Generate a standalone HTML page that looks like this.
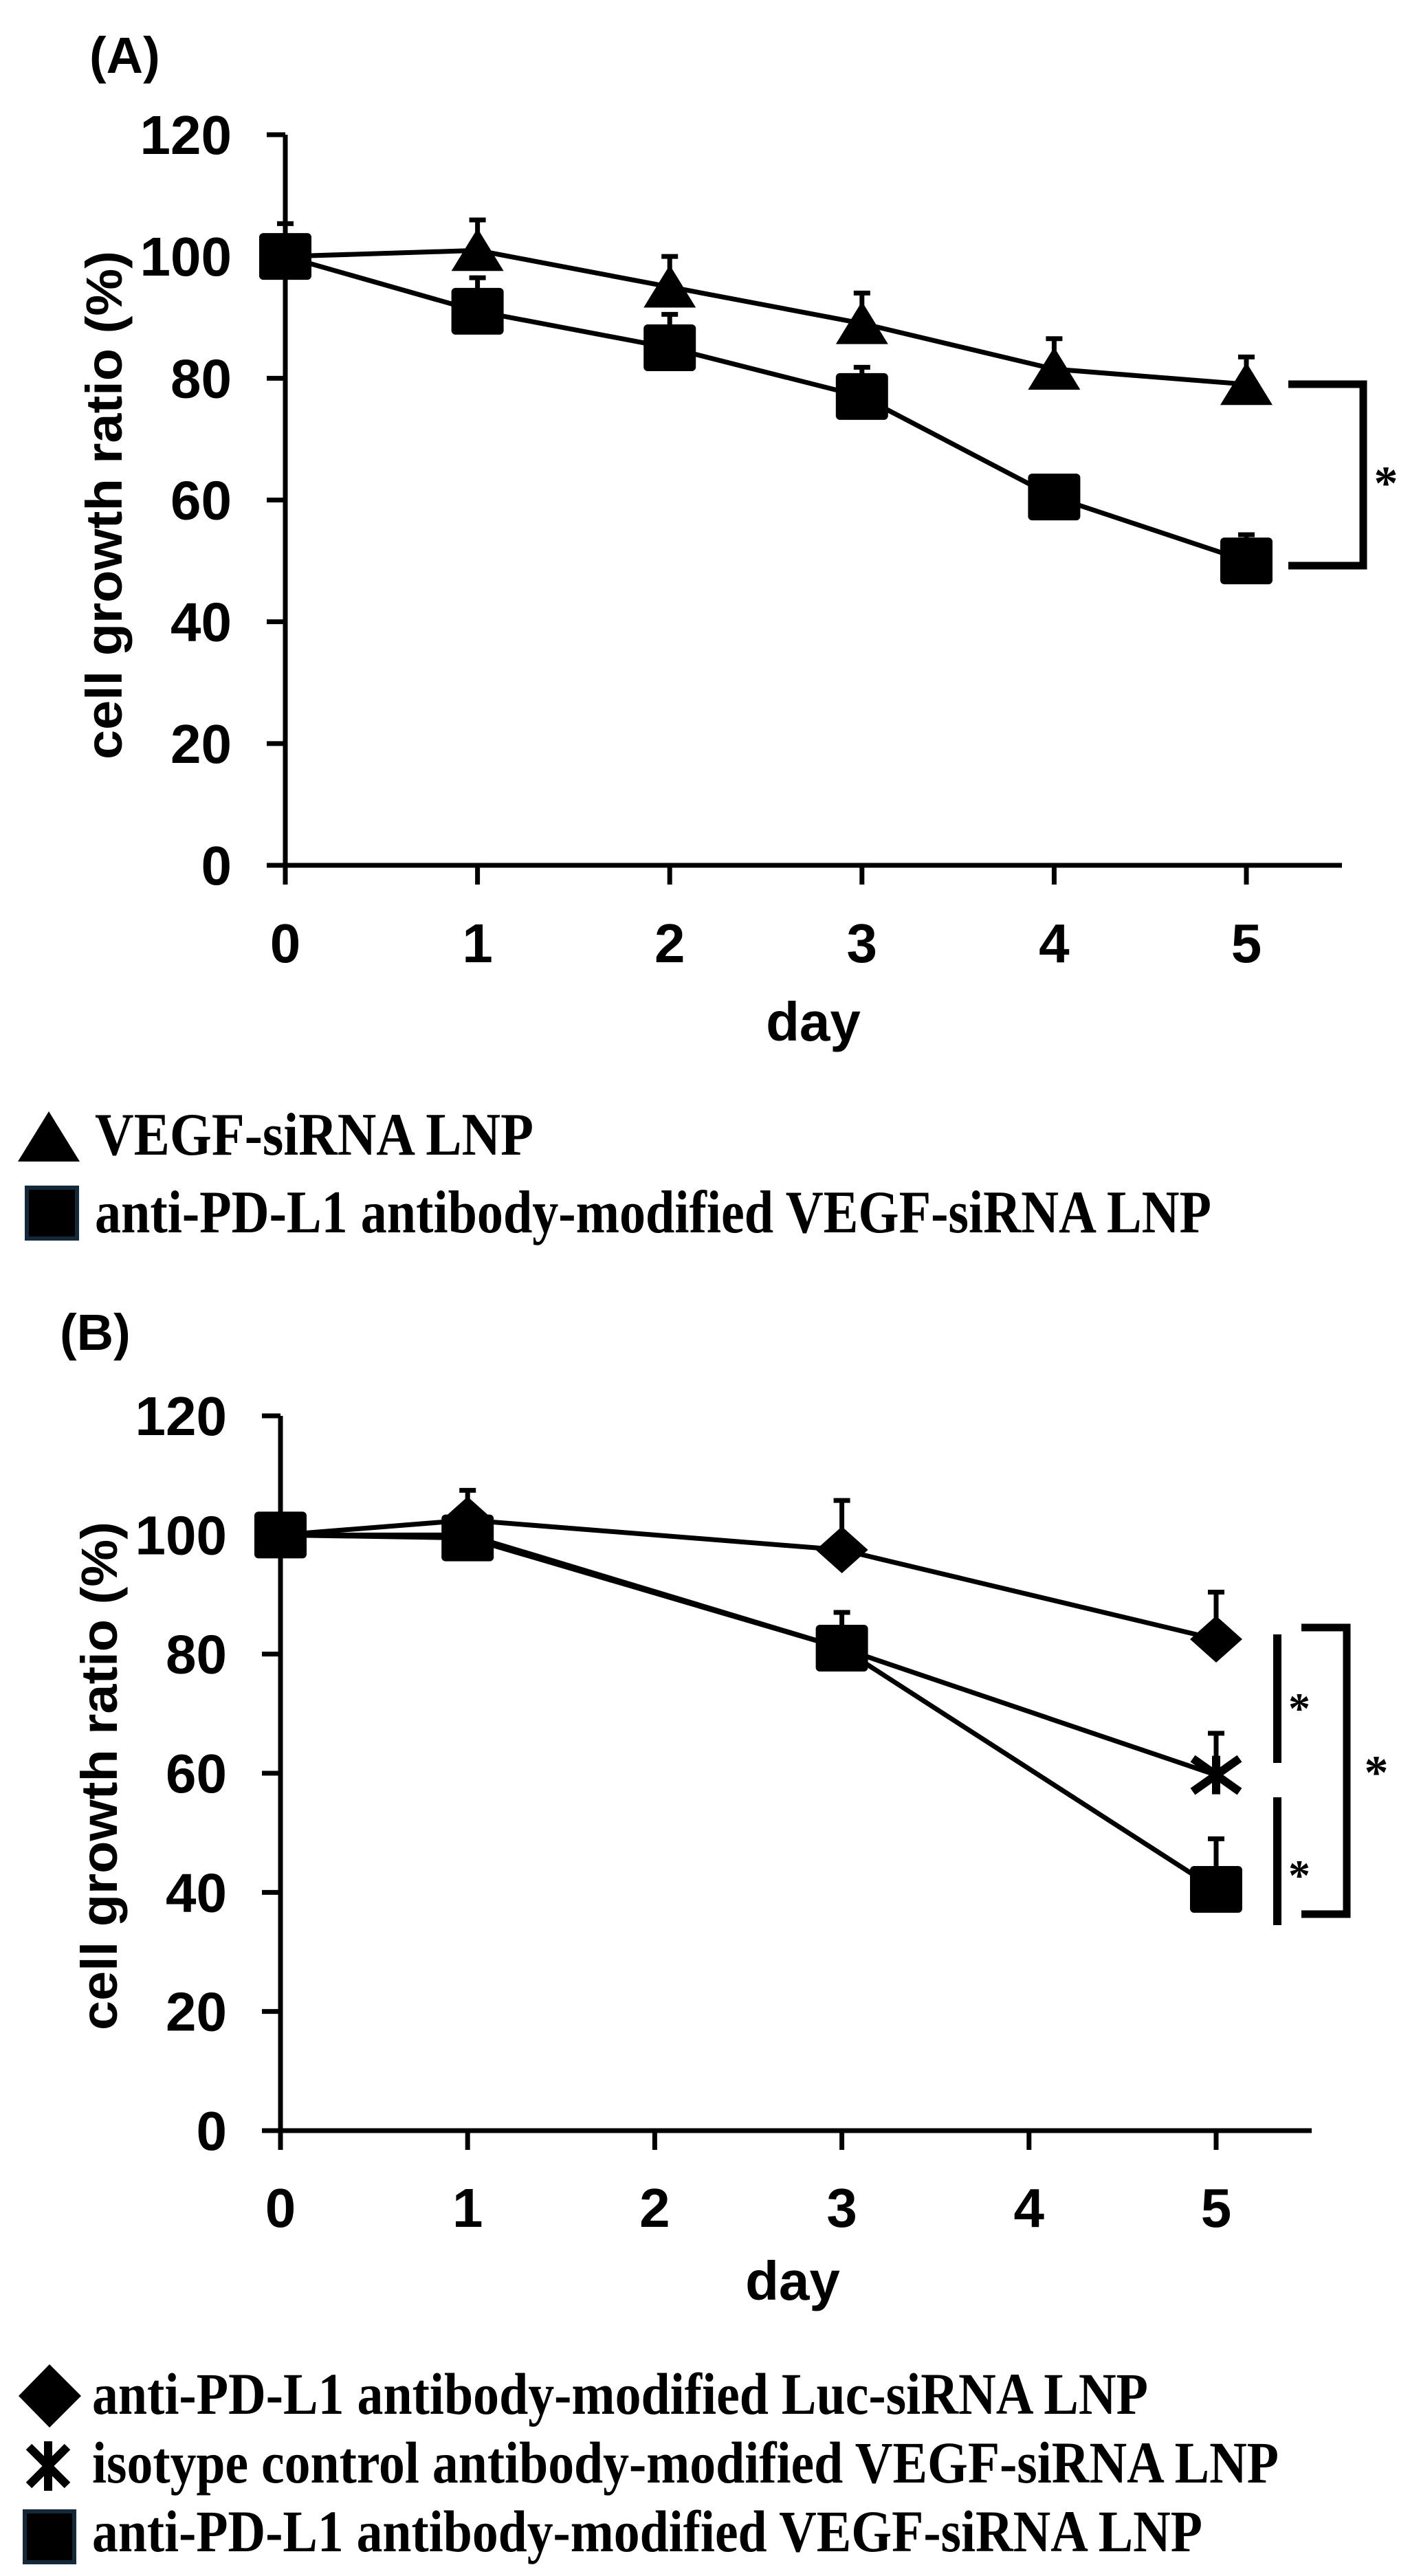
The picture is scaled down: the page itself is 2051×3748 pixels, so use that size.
<!DOCTYPE html>
<html><head><meta charset="utf-8"><style>
html,body{margin:0;padding:0;background:#fff;}
svg{display:block;}
.ax{font-family:"Liberation Sans",sans-serif;font-weight:bold;fill:#000;}
.lg{font-family:"Liberation Serif",serif;font-weight:bold;fill:#000;}
</style></head><body>
<svg id="fig" width="2051" height="3748" viewBox="0 0 2051 3748" xmlns="http://www.w3.org/2000/svg">
<rect width="2051" height="3748" fill="#fff"/>
<text class="ax" x="130" y="106" font-size="74">(A)</text>
<text class="ax" x="87" y="1964" font-size="74">(B)</text>
<g id="chartA"></g>
<g id="chartB"></g>
<!-- Legend A -->
<g>
<g>
<polygon points="26,1690 71,1617 116,1690" fill="#000"/>
<text class="lg" x="138" y="1680" font-size="88" textLength="638" lengthAdjust="spacingAndGlyphs">VEGF-siRNA LNP</text>
</g>
<g>
<rect x="39" y="1728" width="73" height="74" fill="#000" stroke="#13293a" stroke-width="6"/>
<text class="lg" x="138" y="1793" font-size="88" textLength="1624" lengthAdjust="spacingAndGlyphs">anti-PD-L1 antibody-modified VEGF-siRNA LNP</text>
</g>
</g>
<!-- Legend B -->
<g>
<g>
<polygon points="72,3440 118,3486 72,3532 27,3486" fill="#000"/>
<text class="lg" x="134" y="3512" font-size="86" textLength="1536" lengthAdjust="spacingAndGlyphs">anti-PD-L1 antibody-modified Luc-siRNA LNP</text>
</g>
<g>
<g stroke="#000" stroke-width="12"><line x1="70" y1="3552" x2="70" y2="3624"/><line x1="42" y1="3560" x2="98" y2="3616"/><line x1="98" y1="3560" x2="42" y2="3616"/></g>
<text class="lg" x="134" y="3612" font-size="86" textLength="1726" lengthAdjust="spacingAndGlyphs">isotype control antibody-modified VEGF-siRNA LNP</text>
</g>
<g>
<rect x="36" y="3654" width="72" height="74" fill="#000" stroke="#13293a" stroke-width="6"/>
<text class="lg" x="134" y="3712" font-size="86" textLength="1615" lengthAdjust="spacingAndGlyphs">anti-PD-L1 antibody-modified VEGF-siRNA LNP</text>
</g>
</g>
</svg>
<script>
// ---- Panel A data ----
const daysA = [0, 1, 2, 3, 4, 5];
const triVals = [100, 101, 95, 89, 81.5, 79];
const triErr = [0, 5, 5, 5, 5, 4.5];
const sqAVals = [100, 91, 85, 77, 60.5, 50];
const sqAErr = [5.4, 5.5, 5.5, 4.8, 0, 4.3];
const yTicks = [0, 20, 40, 60, 80, 100, 120];
const xTicks = [0, 1, 2, 3, 4, 5];
// ---- Panel B data ----
const daysB = [0, 1, 3, 5];
const diaVals = [100, 102.5, 97.5, 82.5];
const diaErr = [0, 5, 8.3, 7.9];
const crossVals = [100, 100, 81, 59.7];
const crossErr = [0, 0, 0, 7];
const sqBVals = [100, 99.5, 81, 40.5];
const sqBErr = [0, 0, 6, 8.5];

const NS = "http://www.w3.org/2000/svg";
function mk(parent, tag, attrs) {
  const e = document.createElementNS(NS, tag);
  for (const k in attrs) e.setAttribute(k, attrs[k]);
  parent.appendChild(e);
  return e;
}
function axisFns(cfg) {
  return {
    x: d => cfg.x0 + cfg.xStep * d,
    y: v => cfg.y0 - (cfg.y0 - cfg.y120) * v / 120
  };
}
function drawAxes(g, cfg, f) {
  const ax = mk(g, "g", {});
  
  
  mk(ax, "line", {x1: cfg.x0, y1: f.y(120), x2: cfg.x0, y2: f.y(0) + 3, stroke: "#000", "stroke-width": 7});
  mk(ax, "line", {x1: cfg.x0 - 27, y1: f.y(0), x2: cfg.xEnd, y2: f.y(0), stroke: "#000", "stroke-width": 7});
  yTicks.forEach(v => {
    mk(ax, "line", {x1: cfg.x0 - 27, y1: f.y(v), x2: cfg.x0, y2: f.y(v), stroke: "#000", "stroke-width": 7});
    const t = mk(ax, "text", {class: "ax", x: cfg.x0 - 78, y: f.y(v) + 28, "font-size": 80, "text-anchor": "end"});
    
    
    t.textContent = v;
  });
  xTicks.forEach(d => {
    mk(ax, "line", {x1: f.x(d), y1: f.y(0), x2: f.x(d), y2: f.y(0) + 28, stroke: "#000", "stroke-width": 7});
    const t = mk(ax, "text", {class: "ax", x: f.x(d), y: cfg.xLabY + 28, "font-size": 80, "text-anchor": "middle"});
    
    
    t.textContent = d;
  });
  const xt = mk(ax, "text", {class: "ax", x: cfg.dayX, y: cfg.dayY + 22, "font-size": 80, "text-anchor": "middle"});
  
  
  xt.textContent = "day";
  const yt = mk(ax, "text", {class: "ax", x: 0, y: 0, "font-size": 74, "text-anchor": "middle",
    transform: `translate(${cfg.ytX + 26},${cfg.ytY}) rotate(-90)`, textLength: 740, lengthAdjust: "spacingAndGlyphs"});
  
  
  yt.textContent = "cell growth ratio (%)";
}
function drawSeries(g, f, days, vals, errs, marker, name) {
  const s = mk(g, "g", {});
  
  
  const pts = days.map((d, i) => f.x(d) + "," + f.y(vals[i])).join(" ");
  mk(s, "polyline", {points: pts, fill: "none", stroke: "#000", "stroke-width": 7});
  days.forEach((d, i) => {
    if (errs[i] > 0) {
      const cx = f.x(d), top = f.y(vals[i] + errs[i]);
      mk(s, "line", {x1: cx, y1: f.y(vals[i]), x2: cx, y2: top, stroke: "#000", "stroke-width": 7});
      mk(s, "line", {x1: cx - 12, y1: top, x2: cx + 12, y2: top, stroke: "#000", "stroke-width": 7});
    }
  });
  days.forEach((d, i) => {
    const cx = f.x(d), cy = f.y(vals[i]);
    let m;
    if (marker === "tri") m = mk(s, "polygon", {points: `${cx-38},${cy+30} ${cx},${cy-32} ${cx+38},${cy+30}`, fill: "#000"});
    else if (marker === "sq") m = mk(s, "rect", {x: cx - 38, y: cy - 34, width: 76, height: 68, rx: 6, fill: "#000"});
    else if (marker === "dia") m = mk(s, "polygon", {points: `${cx},${cy-34} ${cx+38},${cy} ${cx},${cy+34} ${cx-38},${cy}`, fill: "#000"});
    else {
      m = mk(s, "g", {stroke: "#000", "stroke-width": 12});
      mk(m, "line", {x1: cx, y1: cy - 28, x2: cx, y2: cy + 28});
      mk(m, "line", {x1: cx - 34, y1: cy - 24, x2: cx + 34, y2: cy + 24});
      mk(m, "line", {x1: cx + 34, y1: cy - 24, x2: cx - 34, y2: cy + 24});
    }
    
    
  });
}
function star(g, x, y, size) {
  const t = mk(g, "text", {class: "lg", x: x, y: y + size * 0.45, "font-size": size, "text-anchor": "middle"});
  
  
  t.textContent = "*";
}
function bracket(g, x1, x2, yTop, yBot) {
  const b = mk(g, "polyline", {points: `${x1},${yTop} ${x2},${yTop} ${x2},${yBot} ${x1},${yBot}`, fill: "none", stroke: "#000", "stroke-width": 11});
  
  
}

// Panel A
const cfgA = {x0: 415, xStep: 279.6, y0: 1259, y120: 196, xEnd: 1952, xLabY: 1372, dayX: 1183, dayY: 1492, ytX: 151, ytY: 735};
const fA = axisFns(cfgA);
const gA = document.getElementById("chartA");
drawAxes(gA, cfgA, fA);
drawSeries(gA, fA, daysA, triVals, triErr, "tri", "series-vegf-sirna-lnp");
drawSeries(gA, fA, daysA, sqAVals, sqAErr, "sq", "series-anti-pdl1-vegf");
bracket(gA, 1874, 1983, 559, 823);
star(gA, 2016, 695, 70);

// Panel B
const cfgB = {x0: 408, xStep: 272.2, y0: 3100, y120: 2060, xEnd: 1908, xLabY: 3212, dayX: 1153, dayY: 3324, ytX: 144, ytY: 2584};
const fB = axisFns(cfgB);
const gB = document.getElementById("chartB");
drawAxes(gB, cfgB, fB);
drawSeries(gB, fB, daysB, diaVals, diaErr, "dia", "series-anti-pdl1-luc");
drawSeries(gB, fB, daysB, crossVals, crossErr, "cross", "series-isotype-vegf");
drawSeries(gB, fB, daysB, sqBVals, sqBErr, "sq", "series-anti-pdl1-vegf-b");
const l1 = mk(gB, "line", {x1: 1858, y1: 2378, x2: 1858, y2: 2565, stroke: "#000", "stroke-width": 12});


const l2 = mk(gB, "line", {x1: 1858, y1: 2615, x2: 1858, y2: 2801, stroke: "#000", "stroke-width": 12});


star(gB, 1890, 2478, 64);
star(gB, 1890, 2721, 64);
bracket(gB, 1893, 1959, 2368, 2785);
star(gB, 2002, 2571, 70);
</script>
</body></html>
